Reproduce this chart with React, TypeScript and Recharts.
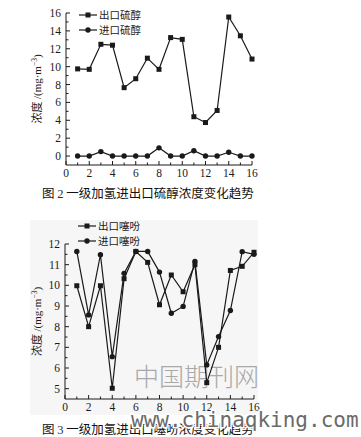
import React from "react";
import { LineChart, Line, XAxis, YAxis, Legend, Label } from "recharts";

// ---- Data ----
const samples = [1, 2, 3, 4, 5, 6, 7, 8, 9, 10, 11, 12, 13, 14, 15, 16];

// Figure 2: mercaptan
const outletMercaptan = [9.75, 9.7, 12.5, 12.4, 7.65, 8.65, 10.95, 9.7, 13.25, 13.05, 4.4, 3.75, 5.1, 15.55, 13.45, 10.85];
const inletMercaptan = [0, 0, 0.5, 0, 0, 0, 0, 0.92, 0, 0, 0.6, 0, 0, 0.42, 0, 0];

// Figure 3: thiophene
const outletThiophene = [9.98, 8.0, 9.98, 5.02, 10.32, 11.64, 11.11, 9.06, 10.5, 9.69, 11.0, 5.29, 7.0, 10.72, 10.92, 11.6];
const inletThiophene = [11.64, 8.57, 11.48, 6.55, 10.58, 11.64, 11.64, 10.64, 8.65, 8.98, 11.16, 6.15, 7.52, 8.78, 11.63, 11.5];

const xTicks = [0, 1, 2, 3, 4, 5, 6, 7, 8, 9, 10, 11, 12, 13, 14, 15, 16];
const xLabeled = [0, 2, 4, 6, 8, 10, 12, 14, 16];
const y1Ticks = [0, 1, 2, 3, 4, 5, 6, 7, 8, 9, 10, 11, 12, 13, 14, 15, 16];
const y1Labeled = [0, 2, 4, 6, 8, 10, 12, 14, 16];
const y2Ticks = [5, 5.5, 6, 6.5, 7, 7.5, 8, 8.5, 9, 9.5, 10, 10.5, 11, 11.5, 12];
const y2Labeled = [5, 6, 7, 8, 9, 10, 11, 12];

const data1 = samples.map((x, i) => ({ x, out: outletMercaptan[i], inn: inletMercaptan[i] }));
const data2 = samples.map((x, i) => ({ x, out: outletThiophene[i], inn: inletThiophene[i] }));

const SERIF = '"Liberation Serif", "DejaVu Serif", serif';
const CJK = '"Noto Sans CJK SC", "Noto Sans", sans-serif';
const INK = "#1a1a1a";

const makeYTick = (labeled: number[]) => (props: any) => {
  const { x, y, payload } = props;
  const major = labeled.includes(payload.value);
  return (
    <g>
      <line x1={x} x2={x + (major ? 4 : 2.5)} y1={y} y2={y} stroke={INK} strokeWidth={1} />
      {major && (
        <text x={x - 5} y={y} dy="0.35em" textAnchor="end" fontFamily={SERIF} fontSize={11.5} fill={INK}>
          {payload.value}
        </text>
      )}
    </g>
  );
};

const makeXTick = (labeled: number[]) => (props: any) => {
  const { x, y, payload } = props;
  const major = labeled.includes(payload.value);
  return (
    <g>
      <line x1={x} x2={x} y1={y} y2={y - (major ? 4 : 2.5)} stroke={INK} strokeWidth={1} />
      {major && (
        <text x={x} y={y + 3} dy="0.75em" textAnchor="middle" fontFamily={SERIF} fontSize={11.5} fill={INK}>
          {payload.value}
        </text>
      )}
    </g>
  );
};

const SquareDot = (props: any) => {
  const { cx, cy, index } = props;
  return <rect key={`s${index}`} x={cx - 2.5} y={cy - 2.5} width={5} height={5} fill={INK} />;
};
const CircleDot = (props: any) => {
  const { cx, cy, index } = props;
  return <circle key={`c${index}`} cx={cx} cy={cy} r={2.7} fill={INK} />;
};

const YLabel = (props: any) => {
  const vb = props.viewBox || {};
  const cy = (vb.y || 0) + (vb.height || 0) / 2;
  const cx = 37;
  return (
    <text
      transform={`translate(${cx},${cy}) rotate(-90)`}
      textAnchor="middle"
      dy="0.35em"
      fontSize={11}
      fill={INK}
      fontFamily={CJK}
    >
      <tspan>浓度 </tspan>
      <tspan fontFamily={SERIF}>/(mg·m</tspan>
      <tspan fontFamily={SERIF} fontSize={7.5} dy="-4">−3</tspan>
      <tspan fontFamily={SERIF} dy="4">)</tspan>
    </text>
  );
};

const makeLegend = (rowGap: number) => (props: any) => {
  const payload = props.payload || [];
  return (
    <div style={{ display: "flex", flexDirection: "column" }}>
      {payload.map((p: any, i: number) => (
        <div key={i} style={{ display: "flex", alignItems: "center", height: rowGap }}>
          <svg width={21} height={10} style={{ display: "block" }}>
            <line x1={1} x2={19} y1={5} y2={5} stroke={INK} strokeWidth={1.2} />
            {p.dataKey === "out" ? (
              <rect x={7.5} y={2.5} width={5} height={5} fill={INK} />
            ) : (
              <circle cx={10} cy={5} r={2.7} fill={INK} />
            )}
          </svg>
          <span style={{ fontFamily: CJK, fontSize: 10.5, color: INK, lineHeight: "10px" }}>{p.value}</span>
        </div>
      ))}
    </div>
  );
};

export default function App() {
  return (
    <div style={{ position: "absolute", left: 0, top: 0, width: 361, height: 437, background: "#fff", overflow: "hidden" }}>
      {/* faint background of figure 3 */}
      <div style={{ position: "absolute", left: 30, top: 220, width: 228, height: 195, background: "#f6f6f6" }} />

      {/* watermark */}
      <div
        style={{
          position: "absolute",
          left: 134,
          top: 362,
          fontFamily: CJK,
          fontWeight: 300,
          fontSize: 25,
          color: "#a8a8a8",
          whiteSpace: "nowrap",
          lineHeight: "27px",
        }}
      >
        中国期刊网
      </div>

      {/* Figure 2 */}
      <div style={{ position: "absolute", left: 0, top: 0 }}>
        <LineChart width={361} height={200} data={data1} margin={{ top: 13, right: 109, bottom: 0, left: 0 }}>
          <XAxis
            type="number"
            dataKey="x"
            domain={[0, 16]}
            ticks={xTicks}
            interval={0}
            height={35}
            tickSize={0}
            tickMargin={0}
            tickLine={false}
            axisLine={{ stroke: INK, strokeWidth: 1 }}
            tick={makeXTick(xLabeled)}
          />
          <YAxis
            type="number"
            domain={[-1, 16]}
            ticks={y1Ticks}
            interval={0}
            width={66}
            tickSize={0}
            tickMargin={0}
            tickLine={false}
            axisLine={{ stroke: INK, strokeWidth: 1 }}
            tick={makeYTick(y1Labeled)}
          >
            <Label content={YLabel} />
          </YAxis>
          <Legend
            layout="vertical"
            verticalAlign="middle"
            align="center"
            content={makeLegend(14.4)}
            wrapperStyle={{ top: 8, left: 78, width: "auto", height: "auto" }}
          />
          <Line dataKey="out" name="出口硫醇" stroke={INK} strokeWidth={1.2} dot={SquareDot} isAnimationActive={false} />
          <Line dataKey="inn" name="进口硫醇" stroke={INK} strokeWidth={1.2} dot={CircleDot} isAnimationActive={false} />
        </LineChart>
      </div>

      <div
        style={{
          position: "absolute",
          left: 42,
          top: 185,
          fontFamily: CJK,
          fontSize: 12.5,
          color: "#111",
          whiteSpace: "nowrap",
          lineHeight: "16px",
        }}
      >
        图 <span style={{ fontFamily: SERIF, color: "#1c2a6a" }}>2</span> 一级加氢进出口硫醇浓度变化趋势
      </div>

      {/* Figure 3 */}
      <div style={{ position: "absolute", left: 0, top: 210 }}>
        <LineChart width={361} height={227} data={data2} margin={{ top: 34, right: 107, bottom: 0, left: 0 }}>
          <XAxis
            type="number"
            dataKey="x"
            domain={[0, 16]}
            ticks={xTicks}
            interval={0}
            height={38}
            tickSize={0}
            tickMargin={0}
            tickLine={false}
            axisLine={{ stroke: INK, strokeWidth: 1 }}
            tick={makeXTick(xLabeled)}
          />
          <YAxis
            type="number"
            domain={[4.5, 12]}
            ticks={y2Ticks}
            interval={0}
            width={65}
            tickSize={0}
            tickMargin={0}
            tickLine={false}
            axisLine={{ stroke: INK, strokeWidth: 1 }}
            tick={makeYTick(y2Labeled)}
          >
            <Label content={YLabel} />
          </YAxis>
          <Legend
            layout="vertical"
            verticalAlign="middle"
            align="center"
            content={makeLegend(15.3)}
            wrapperStyle={{ top: 8, left: 77, width: "auto", height: "auto" }}
          />
          <Line dataKey="out" name="出口噻吩" stroke={INK} strokeWidth={1.2} dot={SquareDot} isAnimationActive={false} />
          <Line dataKey="inn" name="进口噻吩" stroke={INK} strokeWidth={1.2} dot={CircleDot} isAnimationActive={false} />
        </LineChart>
      </div>

      <div
        style={{
          position: "absolute",
          left: 42,
          top: 421,
          fontFamily: CJK,
          fontSize: 12.5,
          color: "#111",
          whiteSpace: "nowrap",
          lineHeight: "15px",
        }}
      >
        图 <span style={{ fontFamily: SERIF, color: "#1c2a6a" }}>3</span> 一级加氢进出口噻吩浓度变化趋势
      </div>

      {/* url watermark */}
      <svg style={{ position: "absolute", left: 0, top: 0 }} width={361} height={437}>
        <text
          x={131}
          y={427}
          fontFamily='"DejaVu Sans Mono", "Liberation Mono", monospace'
          fontSize={21}
          fill="#6a6a6a"
          stroke="#fff"
          strokeWidth={3}
          style={{ paintOrder: "stroke" } as any}
        >
          www.chinaqking.com
        </text>
      </svg>
    </div>
  );
}
